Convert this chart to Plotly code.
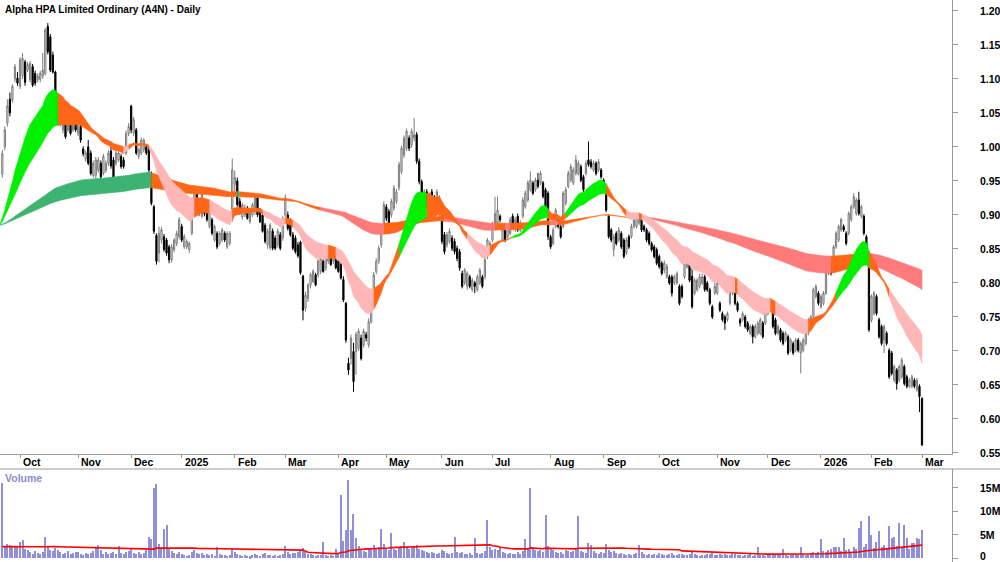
import numpy as np
import pandas as pd
import plotly.graph_objects as go

TITLE = "Alpha HPA Limited Ordinary (A4N) - Daily"
FONT = "Liberation Sans, Arial, sans-serif"

first_day = "2024-09-19"
last_day = "2026-03-02"
asx_holidays = ["2024-12-25", "2024-12-26", "2025-01-01", "2025-01-27", "2025-04-18",
                "2025-04-21", "2025-04-25", "2025-06-09", "2025-12-25", "2025-12-26",
                "2026-01-01", "2026-01-26"]

# close of 2024-09-19, where the moving averages start
ema_seed = 0.885

open_ = [
    0.960, 1.000, 1.035, 1.070, 1.069, 1.100, 1.101, 1.089, 1.105, 1.125,
    1.113, 1.099, 1.118, 1.108, 1.099, 1.099, 1.104, 1.108, 1.177, 1.162,
    1.135, 1.110, 1.074, 1.035, 1.025, 1.040, 1.025, 1.045, 1.025, 1.040,
    1.020, 1.030, 0.997, 0.982, 1.000, 0.991, 0.958, 0.958, 0.966, 0.976,
    0.961, 0.966, 0.976, 0.994, 0.981, 0.976, 0.981, 0.986, 0.981, 0.991,
    1.020, 1.060, 1.020, 1.025, 0.986, 0.991, 0.996, 1.000, 0.996, 0.961,
    0.912, 0.870, 0.844, 0.863, 0.868, 0.863, 0.853, 0.834, 0.849, 0.858,
    0.868, 0.883, 0.853, 0.853, 0.849, 0.873, 0.902, 0.932, 0.902, 0.898,
    0.920, 0.917, 0.883, 0.893, 0.863, 0.873, 0.858, 0.863, 0.873, 0.853,
    0.858, 0.893, 0.945, 0.950, 0.920, 0.897, 0.900, 0.910, 0.890, 0.900,
    0.905, 0.925, 0.905, 0.900, 0.885, 0.856, 0.852, 0.876, 0.866, 0.856,
    0.871, 0.866, 0.900, 0.900, 0.890, 0.871, 0.866, 0.856, 0.860, 0.810,
    0.763, 0.777, 0.797, 0.802, 0.812, 0.812, 0.817, 0.832, 0.822, 0.832,
    0.846, 0.832, 0.836, 0.832, 0.827, 0.805, 0.770, 0.682, 0.689, 0.699,
    0.699, 0.704, 0.719, 0.709, 0.724, 0.709, 0.743, 0.773, 0.817, 0.832,
    0.856, 0.885, 0.912, 0.905, 0.900, 0.910, 0.920, 0.940, 0.964, 0.988,
    0.998, 1.013, 1.003, 1.013, 1.018, 0.979, 0.949, 0.915, 0.934, 0.915,
    0.934, 0.925, 0.915, 0.900, 0.910, 0.871, 0.856, 0.861, 0.866, 0.861,
    0.851, 0.846, 0.814, 0.800, 0.795, 0.809, 0.790, 0.800, 0.790, 0.800,
    0.809, 0.809, 0.839, 0.853, 0.863, 0.883, 0.888, 0.898, 0.863, 0.878,
    0.868, 0.873, 0.898, 0.878, 0.898, 0.878, 0.898, 0.912, 0.922, 0.937,
    0.947, 0.937, 0.951, 0.947, 0.947, 0.937, 0.932, 0.868, 0.858, 0.883,
    0.893, 0.883, 0.883, 0.917, 0.942, 0.951, 0.947, 0.961, 0.961, 0.971,
    0.956, 0.961, 0.981, 0.978, 0.966, 0.976, 0.966, 0.966, 0.951, 0.937,
    0.898, 0.878, 0.849, 0.873, 0.863, 0.873, 0.863, 0.844, 0.868, 0.868,
    0.883, 0.883, 0.888, 0.898, 0.883, 0.878, 0.873, 0.858, 0.853, 0.849,
    0.839, 0.829, 0.819, 0.809, 0.809, 0.809, 0.800, 0.800, 0.795, 0.795,
    0.809, 0.824, 0.829, 0.810, 0.785, 0.790, 0.795, 0.800, 0.809, 0.800,
    0.790, 0.765, 0.785, 0.785, 0.770, 0.755, 0.750, 0.746, 0.770, 0.785,
    0.795, 0.770, 0.746, 0.746, 0.750, 0.741, 0.726, 0.736, 0.721, 0.726,
    0.726, 0.741, 0.741, 0.755, 0.760, 0.765, 0.746, 0.726, 0.731, 0.726,
    0.716, 0.721, 0.701, 0.711, 0.701, 0.716, 0.697, 0.701, 0.711, 0.726,
    0.736, 0.750, 0.780, 0.785, 0.765, 0.770, 0.785, 0.814, 0.829, 0.829,
    0.853, 0.863, 0.878, 0.883, 0.873, 0.873, 0.893, 0.912, 0.902, 0.922,
    0.898, 0.898, 0.868, 0.844, 0.745, 0.755, 0.780, 0.746, 0.736, 0.716,
    0.726, 0.701, 0.697, 0.657, 0.672, 0.657, 0.662, 0.677, 0.662, 0.648,
    0.648, 0.657, 0.643, 0.648, 0.630,
]

high = [
    0.995, 1.030, 1.070, 1.080, 1.092, 1.122, 1.110, 1.132, 1.138, 1.128,
    1.125, 1.126, 1.122, 1.112, 1.108, 1.112, 1.138, 1.175, 1.182, 1.166,
    1.140, 1.112, 1.076, 1.062, 1.048, 1.044, 1.043, 1.048, 1.043, 1.046,
    1.043, 1.034, 1.001, 0.995, 1.010, 0.995, 0.980, 0.985, 0.985, 0.980,
    0.990, 0.980, 0.995, 1.000, 0.985, 0.995, 0.995, 0.990, 0.985, 1.024,
    1.035, 1.062, 1.044, 1.028, 0.999, 1.014, 1.013, 1.004, 1.000, 0.964,
    0.915, 0.873, 0.883, 0.882, 0.872, 0.866, 0.856, 0.857, 0.866, 0.877,
    0.897, 0.887, 0.872, 0.864, 0.861, 0.910, 0.940, 0.935, 0.925, 0.936,
    0.924, 0.920, 0.916, 0.896, 0.886, 0.876, 0.876, 0.881, 0.876, 0.876,
    0.876, 0.983, 0.965, 0.955, 0.925, 0.918, 0.915, 0.913, 0.908, 0.918,
    0.930, 0.928, 0.910, 0.905, 0.888, 0.880, 0.888, 0.880, 0.870, 0.880,
    0.875, 0.898, 0.930, 0.905, 0.895, 0.875, 0.870, 0.860, 0.862, 0.812,
    0.787, 0.800, 0.815, 0.820, 0.815, 0.835, 0.840, 0.836, 0.850, 0.855,
    0.850, 0.850, 0.840, 0.836, 0.830, 0.810, 0.772, 0.690, 0.724, 0.712,
    0.728, 0.733, 0.724, 0.733, 0.728, 0.748, 0.772, 0.816, 0.836, 0.855,
    0.882, 0.920, 0.916, 0.909, 0.924, 0.944, 0.938, 0.978, 1.002, 1.017,
    1.027, 1.017, 1.027, 1.042, 1.022, 0.983, 0.952, 0.938, 0.938, 0.933,
    0.938, 0.929, 0.938, 0.929, 0.914, 0.875, 0.875, 0.880, 0.870, 0.865,
    0.855, 0.850, 0.818, 0.822, 0.817, 0.812, 0.807, 0.803, 0.812, 0.822,
    0.812, 0.837, 0.866, 0.862, 0.890, 0.927, 0.927, 0.901, 0.882, 0.881,
    0.887, 0.897, 0.902, 0.897, 0.902, 0.892, 0.926, 0.936, 0.951, 0.964,
    0.950, 0.955, 0.962, 0.965, 0.950, 0.940, 0.935, 0.871, 0.882, 0.910,
    0.896, 0.886, 0.935, 0.941, 0.965, 0.975, 0.970, 0.988, 0.980, 0.974,
    0.959, 0.980, 1.008, 0.982, 0.980, 0.979, 0.982, 0.969, 0.954, 0.940,
    0.901, 0.881, 0.872, 0.876, 0.882, 0.876, 0.866, 0.867, 0.871, 0.887,
    0.897, 0.902, 0.903, 0.901, 0.886, 0.881, 0.876, 0.861, 0.856, 0.852,
    0.842, 0.832, 0.833, 0.828, 0.812, 0.812, 0.812, 0.817, 0.798, 0.798,
    0.839, 0.837, 0.832, 0.826, 0.807, 0.807, 0.814, 0.814, 0.812, 0.803,
    0.793, 0.768, 0.804, 0.803, 0.773, 0.758, 0.753, 0.758, 0.798, 0.807,
    0.798, 0.773, 0.749, 0.758, 0.753, 0.744, 0.739, 0.739, 0.739, 0.744,
    0.749, 0.744, 0.768, 0.773, 0.778, 0.768, 0.749, 0.739, 0.734, 0.729,
    0.729, 0.724, 0.719, 0.714, 0.719, 0.719, 0.714, 0.719, 0.729, 0.749,
    0.753, 0.793, 0.798, 0.788, 0.783, 0.788, 0.822, 0.837, 0.832, 0.856,
    0.876, 0.886, 0.896, 0.886, 0.876, 0.905, 0.915, 0.932, 0.925, 0.934,
    0.915, 0.901, 0.871, 0.847, 0.783, 0.788, 0.783, 0.749, 0.739, 0.739,
    0.729, 0.704, 0.700, 0.680, 0.675, 0.680, 0.690, 0.680, 0.665, 0.660,
    0.665, 0.660, 0.660, 0.651, 0.632,
]

low = [
    0.955, 0.995, 1.030, 1.045, 1.065, 1.095, 1.090, 1.085, 1.100, 1.090,
    1.110, 1.095, 1.088, 1.090, 1.095, 1.095, 1.100, 1.105, 1.136, 1.110,
    1.108, 1.074, 1.036, 1.030, 1.020, 1.012, 1.022, 1.017, 1.022, 1.022,
    1.016, 1.006, 0.986, 0.978, 0.973, 0.958, 0.955, 0.942, 0.962, 0.952,
    0.958, 0.962, 0.972, 0.968, 0.950, 0.972, 0.978, 0.968, 0.968, 0.988,
    1.016, 1.020, 1.016, 0.988, 0.982, 0.988, 0.992, 0.988, 0.962, 0.914,
    0.872, 0.827, 0.830, 0.858, 0.846, 0.840, 0.829, 0.830, 0.845, 0.854,
    0.864, 0.860, 0.850, 0.850, 0.844, 0.870, 0.898, 0.908, 0.898, 0.895,
    0.898, 0.890, 0.880, 0.870, 0.860, 0.850, 0.855, 0.860, 0.860, 0.850,
    0.855, 0.890, 0.935, 0.912, 0.900, 0.893, 0.897, 0.893, 0.887, 0.897,
    0.900, 0.897, 0.888, 0.874, 0.858, 0.850, 0.848, 0.848, 0.848, 0.852,
    0.848, 0.862, 0.897, 0.877, 0.868, 0.848, 0.843, 0.837, 0.812, 0.745,
    0.758, 0.772, 0.792, 0.800, 0.795, 0.808, 0.813, 0.815, 0.818, 0.828,
    0.825, 0.828, 0.820, 0.815, 0.805, 0.772, 0.712, 0.665, 0.680, 0.640,
    0.665, 0.700, 0.686, 0.705, 0.714, 0.705, 0.740, 0.770, 0.813, 0.828,
    0.852, 0.880, 0.891, 0.872, 0.896, 0.906, 0.916, 0.936, 0.960, 0.984,
    0.994, 0.994, 0.999, 1.008, 0.975, 0.945, 0.925, 0.911, 0.911, 0.911,
    0.901, 0.897, 0.911, 0.896, 0.857, 0.842, 0.852, 0.858, 0.847, 0.842,
    0.832, 0.818, 0.792, 0.797, 0.790, 0.792, 0.787, 0.785, 0.787, 0.797,
    0.792, 0.805, 0.835, 0.850, 0.860, 0.880, 0.885, 0.889, 0.860, 0.860,
    0.865, 0.870, 0.880, 0.875, 0.875, 0.875, 0.895, 0.909, 0.919, 0.934,
    0.929, 0.934, 0.939, 0.944, 0.924, 0.909, 0.863, 0.850, 0.855, 0.880,
    0.880, 0.865, 0.880, 0.914, 0.939, 0.948, 0.944, 0.958, 0.958, 0.948,
    0.934, 0.958, 0.971, 0.968, 0.963, 0.958, 0.963, 0.953, 0.934, 0.904,
    0.865, 0.860, 0.839, 0.855, 0.860, 0.850, 0.836, 0.841, 0.850, 0.865,
    0.880, 0.880, 0.885, 0.875, 0.875, 0.860, 0.855, 0.846, 0.836, 0.826,
    0.821, 0.811, 0.814, 0.806, 0.797, 0.780, 0.797, 0.797, 0.767, 0.777,
    0.806, 0.821, 0.801, 0.762, 0.782, 0.787, 0.792, 0.797, 0.787, 0.787,
    0.767, 0.747, 0.782, 0.782, 0.757, 0.743, 0.731, 0.743, 0.767, 0.782,
    0.767, 0.757, 0.736, 0.743, 0.733, 0.728, 0.723, 0.711, 0.718, 0.723,
    0.723, 0.718, 0.738, 0.752, 0.757, 0.733, 0.723, 0.723, 0.713, 0.708,
    0.713, 0.694, 0.698, 0.694, 0.698, 0.698, 0.667, 0.698, 0.708, 0.723,
    0.733, 0.747, 0.777, 0.767, 0.762, 0.767, 0.782, 0.811, 0.811, 0.826,
    0.850, 0.860, 0.875, 0.875, 0.855, 0.870, 0.890, 0.909, 0.899, 0.899,
    0.895, 0.870, 0.836, 0.728, 0.742, 0.752, 0.752, 0.718, 0.708, 0.697,
    0.708, 0.659, 0.664, 0.654, 0.643, 0.654, 0.659, 0.649, 0.645, 0.645,
    0.645, 0.645, 0.640, 0.610, 0.560,
]

close = [
    0.990, 1.025, 1.060, 1.050, 1.089, 1.118, 1.094, 1.128, 1.130, 1.095,
    1.121, 1.123, 1.091, 1.094, 1.104, 1.108, 1.113, 1.172, 1.140, 1.113,
    1.110, 1.077, 1.040, 1.055, 1.045, 1.015, 1.040, 1.020, 1.040, 1.025,
    1.040, 1.010, 0.990, 0.991, 0.976, 0.961, 0.976, 0.981, 0.981, 0.956,
    0.986, 0.976, 0.991, 0.972, 0.954, 0.991, 0.991, 0.971, 0.971, 1.020,
    1.030, 1.025, 1.040, 0.991, 0.996, 1.010, 1.010, 0.991, 0.966, 0.917,
    0.876, 0.832, 0.873, 0.878, 0.849, 0.844, 0.834, 0.853, 0.863, 0.873,
    0.893, 0.863, 0.868, 0.861, 0.858, 0.907, 0.937, 0.912, 0.922, 0.932,
    0.902, 0.893, 0.912, 0.873, 0.883, 0.853, 0.873, 0.878, 0.863, 0.873,
    0.873, 0.966, 0.955, 0.915, 0.905, 0.915, 0.910, 0.895, 0.905, 0.915,
    0.925, 0.900, 0.890, 0.876, 0.861, 0.876, 0.885, 0.851, 0.851, 0.876,
    0.851, 0.895, 0.925, 0.880, 0.871, 0.851, 0.846, 0.840, 0.815, 0.760,
    0.782, 0.797, 0.812, 0.817, 0.797, 0.832, 0.836, 0.817, 0.846, 0.851,
    0.827, 0.846, 0.822, 0.817, 0.807, 0.775, 0.716, 0.672, 0.719, 0.655,
    0.724, 0.729, 0.689, 0.729, 0.719, 0.743, 0.768, 0.812, 0.832, 0.851,
    0.878, 0.915, 0.895, 0.876, 0.920, 0.940, 0.934, 0.974, 0.998, 1.013,
    1.023, 0.998, 1.023, 1.018, 0.979, 0.949, 0.929, 0.934, 0.915, 0.929,
    0.905, 0.900, 0.934, 0.925, 0.861, 0.846, 0.871, 0.876, 0.851, 0.846,
    0.836, 0.822, 0.795, 0.819, 0.814, 0.795, 0.804, 0.795, 0.809, 0.819,
    0.795, 0.834, 0.863, 0.858, 0.888, 0.902, 0.907, 0.893, 0.878, 0.863,
    0.883, 0.893, 0.883, 0.893, 0.878, 0.888, 0.922, 0.932, 0.947, 0.951,
    0.932, 0.951, 0.942, 0.961, 0.927, 0.912, 0.868, 0.853, 0.878, 0.907,
    0.883, 0.868, 0.932, 0.937, 0.961, 0.971, 0.966, 0.981, 0.976, 0.951,
    0.937, 0.976, 0.974, 0.971, 0.976, 0.961, 0.978, 0.956, 0.937, 0.907,
    0.868, 0.863, 0.868, 0.858, 0.878, 0.853, 0.839, 0.863, 0.853, 0.883,
    0.893, 0.898, 0.900, 0.878, 0.878, 0.863, 0.858, 0.849, 0.839, 0.829,
    0.824, 0.814, 0.829, 0.824, 0.800, 0.785, 0.809, 0.814, 0.770, 0.780,
    0.829, 0.834, 0.804, 0.765, 0.804, 0.804, 0.809, 0.809, 0.790, 0.790,
    0.770, 0.750, 0.795, 0.800, 0.760, 0.746, 0.741, 0.755, 0.795, 0.804,
    0.770, 0.760, 0.741, 0.755, 0.736, 0.731, 0.736, 0.721, 0.736, 0.741,
    0.746, 0.721, 0.765, 0.770, 0.775, 0.736, 0.726, 0.736, 0.716, 0.711,
    0.726, 0.697, 0.716, 0.697, 0.716, 0.701, 0.711, 0.716, 0.726, 0.746,
    0.750, 0.790, 0.795, 0.770, 0.780, 0.785, 0.819, 0.834, 0.814, 0.853,
    0.873, 0.883, 0.893, 0.878, 0.858, 0.902, 0.912, 0.927, 0.922, 0.902,
    0.912, 0.873, 0.839, 0.731, 0.780, 0.785, 0.755, 0.721, 0.711, 0.736,
    0.711, 0.662, 0.667, 0.677, 0.652, 0.677, 0.687, 0.652, 0.648, 0.657,
    0.662, 0.648, 0.657, 0.633, 0.562,
]

# daily volume, millions of shares
volume_m = [
    15.9, 2.6, 2.9, 2.8, 2.4, 2.6, 2.3, 3.4, 3.8, 2.0,
    1.6, 1.2, 0.9, 1.4, 1.1, 0.8, 1.3, 4.4, 2.5, 1.8,
    1.5, 2.2, 1.6, 1.2, 0.9, 1.1, 1.4, 0.8, 1.0, 1.2,
    1.3, 0.9, 0.7, 1.1, 0.8, 1.0, 1.5, 2.4, 2.8, 1.6,
    0.9, 1.2, 0.8, 1.0, 1.3, 0.9, 2.5, 1.1, 0.8, 1.2,
    1.4, 1.9, 1.0, 0.9, 1.2, 0.8, 1.0, 1.6, 4.4, 4.0,
    14.8, 15.7, 3.0, 2.2, 6.2, 7.0, 2.0, 1.4, 1.1, 0.9,
    1.2, 0.8, 0.6, 0.5, 0.7, 1.3, 1.6, 1.0, 0.8, 1.1,
    0.7, 0.9, 0.6, 0.8, 0.5, 2.4, 0.9, 0.6, 0.7, 0.5,
    0.6, 2.0, 1.2, 0.9, 0.7, 0.5, 0.6, 0.5, 0.4, 0.6,
    0.8, 0.7, 0.5, 0.9, 1.0, 0.7, 0.6, 0.5, 0.6, 0.5,
    0.7, 0.9, 2.6, 1.3, 0.9, 1.1, 1.0, 1.2, 1.8, 2.2,
    1.3, 0.9, 0.8, 0.6, 0.5, 0.7, 0.6, 3.5, 0.7, 0.5,
    0.6, 0.5, 1.9, 0.8, 13.4, 3.7, 6.0, 16.6, 6.0, 9.3,
    4.2, 2.5, 1.8, 1.5, 1.2, 1.9, 2.2, 2.8, 2.0, 2.4,
    6.1, 3.0, 2.2, 1.8, 5.4, 2.0, 1.6, 2.2, 2.6, 3.5,
    2.4, 1.9, 2.1, 2.6, 2.8, 2.0, 1.7, 1.4, 1.2, 1.0,
    1.3, 1.1, 0.9, 1.0, 1.8, 1.4, 1.1, 0.9, 1.0, 4.5,
    1.3, 1.0, 1.2, 0.8, 0.9, 1.1, 0.7, 4.2, 1.0, 0.8,
    1.1, 1.5, 8.1, 2.4, 1.8, 2.0, 1.6, 2.4, 1.3, 1.0,
    0.9, 1.1, 0.8, 0.9, 1.2, 0.8, 1.4, 4.0, 2.0, 15.0,
    2.2, 1.8, 1.4, 1.6, 1.2, 9.1, 2.5, 1.9, 1.6, 1.3,
    1.0, 1.2, 0.9, 1.8, 1.5, 1.2, 1.4, 1.6, 8.9, 1.5,
    1.2, 1.0, 3.1, 2.8, 1.4, 1.0, 0.9, 1.2, 1.0, 3.0,
    1.6, 1.2, 1.4, 1.0, 0.8, 1.1, 0.9, 0.7, 0.8, 0.6,
    0.9, 1.0, 2.8, 1.2, 0.9, 0.7, 0.8, 0.6, 0.9, 0.7,
    1.0, 0.8, 0.6, 0.7, 0.9, 1.1, 0.7, 0.6, 0.8, 0.9,
    0.7, 0.6, 0.9, 1.3, 0.8, 0.6, 0.5, 0.7, 0.6, 0.8,
    0.9, 1.1, 0.7, 0.6, 0.8, 0.7, 0.9, 0.6, 0.7, 0.8,
    0.9, 0.7, 0.6, 0.5, 0.7, 0.6, 0.8, 0.5, 0.6, 2.4,
    0.7, 0.6, 0.5, 0.8, 0.9, 0.7, 0.6, 0.8, 0.7, 1.9,
    0.6, 0.5, 0.7, 0.9, 0.8, 0.6, 2.4, 0.9, 0.7, 0.8,
    1.0, 1.2, 1.1, 1.3, 4.0, 1.5, 1.2, 1.8, 2.0, 2.4,
    2.4, 2.3, 1.4, 4.2, 1.6, 2.0, 1.3, 2.4, 1.9, 6.3,
    7.9, 2.4, 3.0, 8.9, 4.8, 2.2, 3.5, 5.8, 2.4, 2.8,
    2.0, 6.8, 4.2, 4.4, 2.6, 7.5, 2.4, 7.0, 4.2, 2.0,
    3.1, 3.1, 4.2, 4.0, 6.0,
]

vol_avg_start = 2.2     # level of the volume average at the left edge (millions)
vol_avg_window = 60
# ribbon spans (exponential averages), as read from the ribbons' speed
short_periods = [20, 24, 28, 32, 36, 40]
long_periods = [150, 170, 190, 210, 230, 250]
slope_lookback = 3

price_ticks = [0.55, 0.60, 0.65, 0.70, 0.75, 0.80, 0.85, 0.90, 0.95, 1.00, 1.05, 1.10, 1.15, 1.20]
volume_ticks = [0, 5, 10, 15]
volume_tick_text = ["0", "5M", "10M", "15M"]

short_colors = {"bull": "#00f000", "bear": "#ffb6b6", "mixed": "#ff6618"}
long_colors = {"bull": "#3cb371", "bear": "#ff7b7b", "mixed": "#ff6618"}

# ---------------------------------------------------------------- calendar
days = pd.bdate_range(first_day, last_day)
days = days[~days.isin(pd.to_datetime(asx_holidays))]
n_days = len(days)
assert n_days == len(close) + 1
for arr in (open_, high, low, volume_m):
    assert len(arr) == len(close)

x_all = np.arange(n_days)          # index 0 = seed day
x_c = x_all[1:]

month_ticks, month_labels = [], []
prev = None
for i, d in enumerate(days):
    key = (d.year, d.month)
    if prev is not None and key != prev:
        month_ticks.append(i)
        month_labels.append(str(d.year) if d.month == 1 else d.strftime("%b"))
    prev = key

# ---------------------------------------------------------------- averages
series = pd.Series([ema_seed] + close)


def ema_group(periods):
    return np.array([series.ewm(span=p, adjust=False).mean().to_numpy() for p in periods])


def states(e):
    """bull: fast above slow and all rising; bear: fast below slow and all falling."""
    order = e[:-1] - e[1:]
    n = e.shape[1]
    out = []
    for j in range(n):
        slope = e[:, j] - e[:, max(0, j - slope_lookback)]
        if np.all(order[:, j] >= -1e-12) and np.all(slope >= -1e-12):
            out.append("bull")
        elif np.all(order[:, j] <= 1e-12) and np.all(slope <= 1e-12):
            out.append("bear")
        else:
            out.append("mixed")
    return out


fig = go.Figure()


def add_band(e, colors):
    up = e.max(axis=0)
    lo = e.min(axis=0)
    st = states(e)
    n = len(st)
    s = 0
    for j in range(1, n + 1):
        if j == n or st[j] != st[s]:
            end = min(j, n - 1)
            xs = list(x_all[s:end + 1]) + list(x_all[s:end + 1][::-1])
            ys = list(up[s:end + 1]) + list(lo[s:end + 1][::-1])
            fig.add_trace(go.Scatter(x=xs, y=ys, fill="toself", fillcolor=colors[st[s]],
                                     mode="lines", line=dict(width=0.6, color=colors[st[s]]),
                                     hoverinfo="skip", xaxis="x", yaxis="y"))
            s = j


add_band(ema_group(long_periods), long_colors)
add_band(ema_group(short_periods), short_colors)

fig.add_trace(go.Candlestick(
    x=x_c, open=open_, high=high, low=low, close=close,
    increasing=dict(line=dict(color="#7a7a7a", width=1), fillcolor="#ffffff"),
    decreasing=dict(line=dict(color="#000000", width=1), fillcolor="#000000"),
    whiskerwidth=0, xaxis="x", yaxis="y", hoverinfo="skip"))

# ---------------------------------------------------------------- volume
vol = np.array(volume_m)
padded = np.concatenate([np.full(vol_avg_window - 1, vol_avg_start), vol])
vol_avg = pd.Series(padded).rolling(vol_avg_window).mean().to_numpy()[vol_avg_window - 1:]

fig.add_trace(go.Bar(x=x_c, y=vol, width=0.42, marker=dict(color="#8f8fdc", line=dict(width=0)),
                     xaxis="x2", yaxis="y2", hoverinfo="skip"))
fig.add_trace(go.Scatter(x=x_c, y=vol_avg, mode="lines", line=dict(color="#ff0000", width=1.6),
                         xaxis="x2", yaxis="y2", hoverinfo="skip"))

# ---------------------------------------------------------------- layout
W, H = 1000, 562
plot_right = 952
main_bottom = 454
vol_top = 469
label_x = 978
x_range = [0.083, 0.083 + plot_right / 2.5266]
axis_col = "#9a9a9a"

fig.update_layout(
    width=W, height=H, margin=dict(l=0, r=0, t=0, b=0),
    paper_bgcolor="white", plot_bgcolor="white", showlegend=False,
    bargap=0,
    xaxis=dict(domain=[0, plot_right / W], range=x_range, anchor="y",
               showgrid=False, zeroline=False, showticklabels=False,
               tickvals=month_ticks, ticks="outside", ticklen=3, tickcolor=axis_col,
               showline=True, linecolor=axis_col, linewidth=1,
               rangeslider=dict(visible=False)),
    yaxis=dict(domain=[1 - main_bottom / H, 1], range=[0.5485, 1.216], side="right",
               anchor="x", showgrid=False, zeroline=False, showticklabels=False,
               tickvals=price_ticks, ticks="outside", ticklen=5, tickcolor=axis_col,
               showline=True, linecolor=axis_col, linewidth=1),
    xaxis2=dict(domain=[0, plot_right / W], range=x_range, anchor="y2", matches="x",
                showgrid=False, zeroline=False, showticklabels=False, ticks="",
                side="top", showline=False,
                rangeslider=dict(visible=False)),
    yaxis2=dict(domain=[0, 1 - vol_top / H], range=[-0.85, 18.94], side="right",
                anchor="x2", showgrid=False, zeroline=False, showticklabels=False,
                tickvals=volume_ticks, ticks="outside", ticklen=5, tickcolor=axis_col,
                showline=True, linecolor=axis_col, linewidth=1),
    shapes=[dict(type="line", xref="paper", yref="paper", x0=0, x1=1,
                 y0=1 - vol_top / H, y1=1 - vol_top / H,
                 line=dict(color=axis_col, width=1))],
)

label_font = dict(family=FONT, size=10.5, color="#000000", weight="bold")
annotations = [
    dict(text=TITLE, x=3 / W, y=1 - 9 / H, xref="paper", yref="paper",
         xanchor="left", yanchor="middle", showarrow=False,
         font=dict(family=FONT, size=10, color="#000000", weight="bold")),
    dict(text="Volume", x=3 / W, y=1 - 478 / H, xref="paper", yref="paper",
         xanchor="left", yanchor="middle", showarrow=False,
         font=dict(family=FONT, size=10.5, color="#8c8cd0", weight="bold")),
]
for t, lab in zip(month_ticks, month_labels):
    annotations.append(dict(text=lab, x=t, y=1 - 462 / H, xref="x", yref="paper",
                            xanchor="left", yanchor="middle", xshift=1, showarrow=False,
                            font=label_font))
for v in price_ticks:
    annotations.append(dict(text=f"{v:.2f}", x=label_x / W, y=v, xref="paper", yref="y",
                            xanchor="left", yanchor="middle", showarrow=False, font=label_font))
for v, t in zip(volume_ticks, volume_tick_text):
    annotations.append(dict(text=t, x=label_x / W, y=v, xref="paper", yref="y2",
                            xanchor="left", yanchor="middle", showarrow=False, font=label_font,
                            yshift=2 if v == 0 else 0))
fig.update_layout(annotations=annotations)

fig.write_html("out.html")
